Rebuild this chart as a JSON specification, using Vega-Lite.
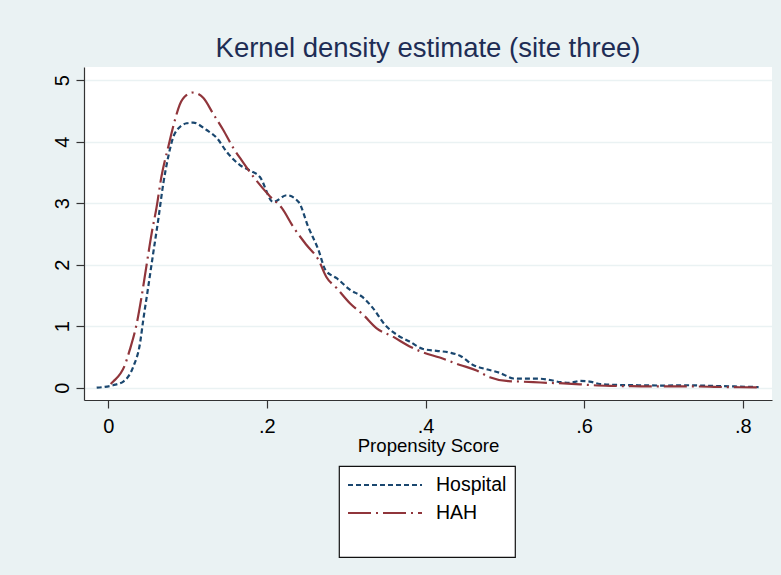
{
  "$schema": "https://vega.github.io/schema/vega-lite/v6.json",
  "width": 688,
  "height": 333,
  "autosize": {"type": "none"},
  "padding": {"left": 84, "top": 67, "right": 9, "bottom": 175},
  "background": "#EAF2F3",
  "title": {
    "text": "Kernel density estimate (site three)",
    "fontSize": 27.5,
    "font": "Liberation Sans",
    "fontWeight": "normal",
    "color": "#1E2D55",
    "anchor": "middle",
    "frame": "group",
    "offset": -17,
    "baseline": "alphabetic"
  },
  "datasets": {
    "kd": [
      {"series": "Hospital", "x": -0.0146, "y": 0},
      {"series": "Hospital", "x": 0.006, "y": 0.04},
      {"series": "Hospital", "x": 0.019, "y": 0.1},
      {"series": "Hospital", "x": 0.0315, "y": 0.34},
      {"series": "Hospital", "x": 0.04, "y": 0.72},
      {"series": "Hospital", "x": 0.0441, "y": 1.1},
      {"series": "Hospital", "x": 0.0504, "y": 1.64},
      {"series": "Hospital", "x": 0.0567, "y": 2.19},
      {"series": "Hospital", "x": 0.063, "y": 2.73},
      {"series": "Hospital", "x": 0.0694, "y": 3.32},
      {"series": "Hospital", "x": 0.0757, "y": 3.76},
      {"series": "Hospital", "x": 0.0841, "y": 4.14},
      {"series": "Hospital", "x": 0.0989, "y": 4.3},
      {"series": "Hospital", "x": 0.107, "y": 4.31},
      {"series": "Hospital", "x": 0.124, "y": 4.19},
      {"series": "Hospital", "x": 0.137, "y": 4.06},
      {"series": "Hospital", "x": 0.149, "y": 3.84},
      {"series": "Hospital", "x": 0.166, "y": 3.62},
      {"series": "Hospital", "x": 0.179, "y": 3.53},
      {"series": "Hospital", "x": 0.191, "y": 3.43},
      {"series": "Hospital", "x": 0.208, "y": 3.02},
      {"series": "Hospital", "x": 0.225, "y": 3.13},
      {"series": "Hospital", "x": 0.24, "y": 3.02},
      {"series": "Hospital", "x": 0.252, "y": 2.62},
      {"series": "Hospital", "x": 0.265, "y": 2.24},
      {"series": "Hospital", "x": 0.274, "y": 1.91},
      {"series": "Hospital", "x": 0.288, "y": 1.78},
      {"series": "Hospital", "x": 0.305, "y": 1.59},
      {"series": "Hospital", "x": 0.32, "y": 1.48},
      {"series": "Hospital", "x": 0.334, "y": 1.29},
      {"series": "Hospital", "x": 0.349, "y": 1.02},
      {"series": "Hospital", "x": 0.364, "y": 0.86},
      {"series": "Hospital", "x": 0.38, "y": 0.75},
      {"series": "Hospital", "x": 0.397, "y": 0.63},
      {"series": "Hospital", "x": 0.414, "y": 0.6},
      {"series": "Hospital", "x": 0.431, "y": 0.57},
      {"series": "Hospital", "x": 0.4435, "y": 0.52},
      {"series": "Hospital", "x": 0.46, "y": 0.37},
      {"series": "Hospital", "x": 0.477, "y": 0.3},
      {"series": "Hospital", "x": 0.494, "y": 0.24},
      {"series": "Hospital", "x": 0.511, "y": 0.15},
      {"series": "Hospital", "x": 0.528, "y": 0.146},
      {"series": "Hospital", "x": 0.544, "y": 0.146},
      {"series": "Hospital", "x": 0.557, "y": 0.125},
      {"series": "Hospital", "x": 0.57, "y": 0.09},
      {"series": "Hospital", "x": 0.582, "y": 0.08},
      {"series": "Hospital", "x": 0.595, "y": 0.11},
      {"series": "Hospital", "x": 0.607, "y": 0.1},
      {"series": "Hospital", "x": 0.62, "y": 0.06},
      {"series": "Hospital", "x": 0.64, "y": 0.045},
      {"series": "Hospital", "x": 0.67, "y": 0.04},
      {"series": "Hospital", "x": 0.7, "y": 0.035},
      {"series": "Hospital", "x": 0.73, "y": 0.04},
      {"series": "Hospital", "x": 0.76, "y": 0.03},
      {"series": "Hospital", "x": 0.79, "y": 0.02},
      {"series": "Hospital", "x": 0.82, "y": 0.01},
      {"series": "HAH", "x": 0.003, "y": 0.06},
      {"series": "HAH", "x": 0.0063, "y": 0.1},
      {"series": "HAH", "x": 0.021, "y": 0.37},
      {"series": "HAH", "x": 0.027, "y": 0.61},
      {"series": "HAH", "x": 0.036, "y": 1.05},
      {"series": "HAH", "x": 0.042, "y": 1.48},
      {"series": "HAH", "x": 0.048, "y": 1.97},
      {"series": "HAH", "x": 0.0547, "y": 2.51},
      {"series": "HAH", "x": 0.061, "y": 2.94},
      {"series": "HAH", "x": 0.067, "y": 3.43},
      {"series": "HAH", "x": 0.0757, "y": 3.92},
      {"series": "HAH", "x": 0.084, "y": 4.35},
      {"series": "HAH", "x": 0.09, "y": 4.6},
      {"series": "HAH", "x": 0.0989, "y": 4.76},
      {"series": "HAH", "x": 0.107, "y": 4.8},
      {"series": "HAH", "x": 0.12, "y": 4.71},
      {"series": "HAH", "x": 0.132, "y": 4.46},
      {"series": "HAH", "x": 0.145, "y": 4.19},
      {"series": "HAH", "x": 0.158, "y": 3.89},
      {"series": "HAH", "x": 0.168, "y": 3.7},
      {"series": "HAH", "x": 0.183, "y": 3.43},
      {"series": "HAH", "x": 0.204, "y": 3.11},
      {"series": "HAH", "x": 0.219, "y": 2.92},
      {"series": "HAH", "x": 0.233, "y": 2.62},
      {"series": "HAH", "x": 0.25, "y": 2.32},
      {"series": "HAH", "x": 0.265, "y": 2.08},
      {"series": "HAH", "x": 0.275, "y": 1.8},
      {"series": "HAH", "x": 0.288, "y": 1.62},
      {"series": "HAH", "x": 0.305, "y": 1.37},
      {"series": "HAH", "x": 0.322, "y": 1.18},
      {"series": "HAH", "x": 0.338, "y": 0.97},
      {"series": "HAH", "x": 0.359, "y": 0.83},
      {"series": "HAH", "x": 0.38, "y": 0.67},
      {"series": "HAH", "x": 0.397, "y": 0.575},
      {"series": "HAH", "x": 0.418, "y": 0.49},
      {"series": "HAH", "x": 0.4435, "y": 0.37},
      {"series": "HAH", "x": 0.4645, "y": 0.28},
      {"series": "HAH", "x": 0.481, "y": 0.17},
      {"series": "HAH", "x": 0.502, "y": 0.11},
      {"series": "HAH", "x": 0.519, "y": 0.1},
      {"series": "HAH", "x": 0.536, "y": 0.09},
      {"series": "HAH", "x": 0.553, "y": 0.08},
      {"series": "HAH", "x": 0.574, "y": 0.07},
      {"series": "HAH", "x": 0.595, "y": 0.055},
      {"series": "HAH", "x": 0.612, "y": 0.04},
      {"series": "HAH", "x": 0.633, "y": 0.03},
      {"series": "HAH", "x": 0.66, "y": 0.025},
      {"series": "HAH", "x": 0.7, "y": 0.02},
      {"series": "HAH", "x": 0.74, "y": 0.02},
      {"series": "HAH", "x": 0.78, "y": 0.01},
      {"series": "HAH", "x": 0.82, "y": 0.005}
    ]
  },
  "data": {"name": "kd"},
  "mark": {"type": "line", "strokeWidth": 2.2, "interpolate": "monotone"},
  "encoding": {
    "x": {
      "field": "x",
      "type": "quantitative",
      "scale": {"domain": [-0.0306, 0.8369], "nice": false, "zero": false},
      "axis": {
        "values": [0, 0.2, 0.4, 0.6, 0.8],
        "title": "Propensity Score",
        "labelExpr": "replace(format(datum.value, '.1~f'), '0.', '.')",
        "grid": false
      }
    },
    "y": {
      "field": "y",
      "type": "quantitative",
      "scale": {"domain": [-0.2, 5.215], "nice": false, "zero": false},
      "axis": {"values": [0, 1, 2, 3, 4, 5], "title": null, "labelAngle": -90, "grid": true}
    },
    "color": {
      "field": "series",
      "type": "nominal",
      "scale": {"domain": ["Hospital", "HAH"], "range": ["#1A476F", "#90353B"]},
      "legend": {"title": " "}
    },
    "strokeDash": {
      "field": "series",
      "type": "nominal",
      "scale": {"domain": ["Hospital", "HAH"], "range": [[5, 3], [23, 5, 2, 5]]},
      "legend": {"title": " "}
    }
  },
  "config": {
    "view": {"fill": "white", "stroke": null},
    "axis": {
      "domainColor": "#333333",
      "domainWidth": 1.2,
      "tickColor": "#333333",
      "tickWidth": 1.2,
      "tickSize": 8,
      "labelFont": "Liberation Sans",
      "labelFontSize": 20,
      "labelColor": "#000000",
      "titleFont": "Liberation Sans",
      "titleFontSize": 18.6,
      "titleFontWeight": "normal",
      "titleColor": "#000000",
      "gridColor": "#EAF2F3",
      "gridWidth": 1.5
    },
    "axisX": {"labelPadding": 8, "titlePadding": 0},
    "axisY": {"labelPadding": 4},
    "legend": {
      "orient": "none",
      "legendX": 255,
      "legendY": 399,
      "fillColor": "#FFFFFF",
      "strokeColor": "#111111",
      "strokeWidth": 1.2,
      "padding": 8,
      "symbolType": "M-1,0H6.4",
      "symbolSize": 400,
      "symbolStrokeWidth": 2,
      "symbolFillColor": "transparent",
      "labelFont": "Liberation Sans",
      "labelFontSize": 19.5,
      "labelColor": "#000000",
      "labelOffset": 67,
      "rowPadding": 7,
      "titleOrient": "bottom",
      "titleFontSize": 20,
      "titlePadding": 6
    }
  }
}
